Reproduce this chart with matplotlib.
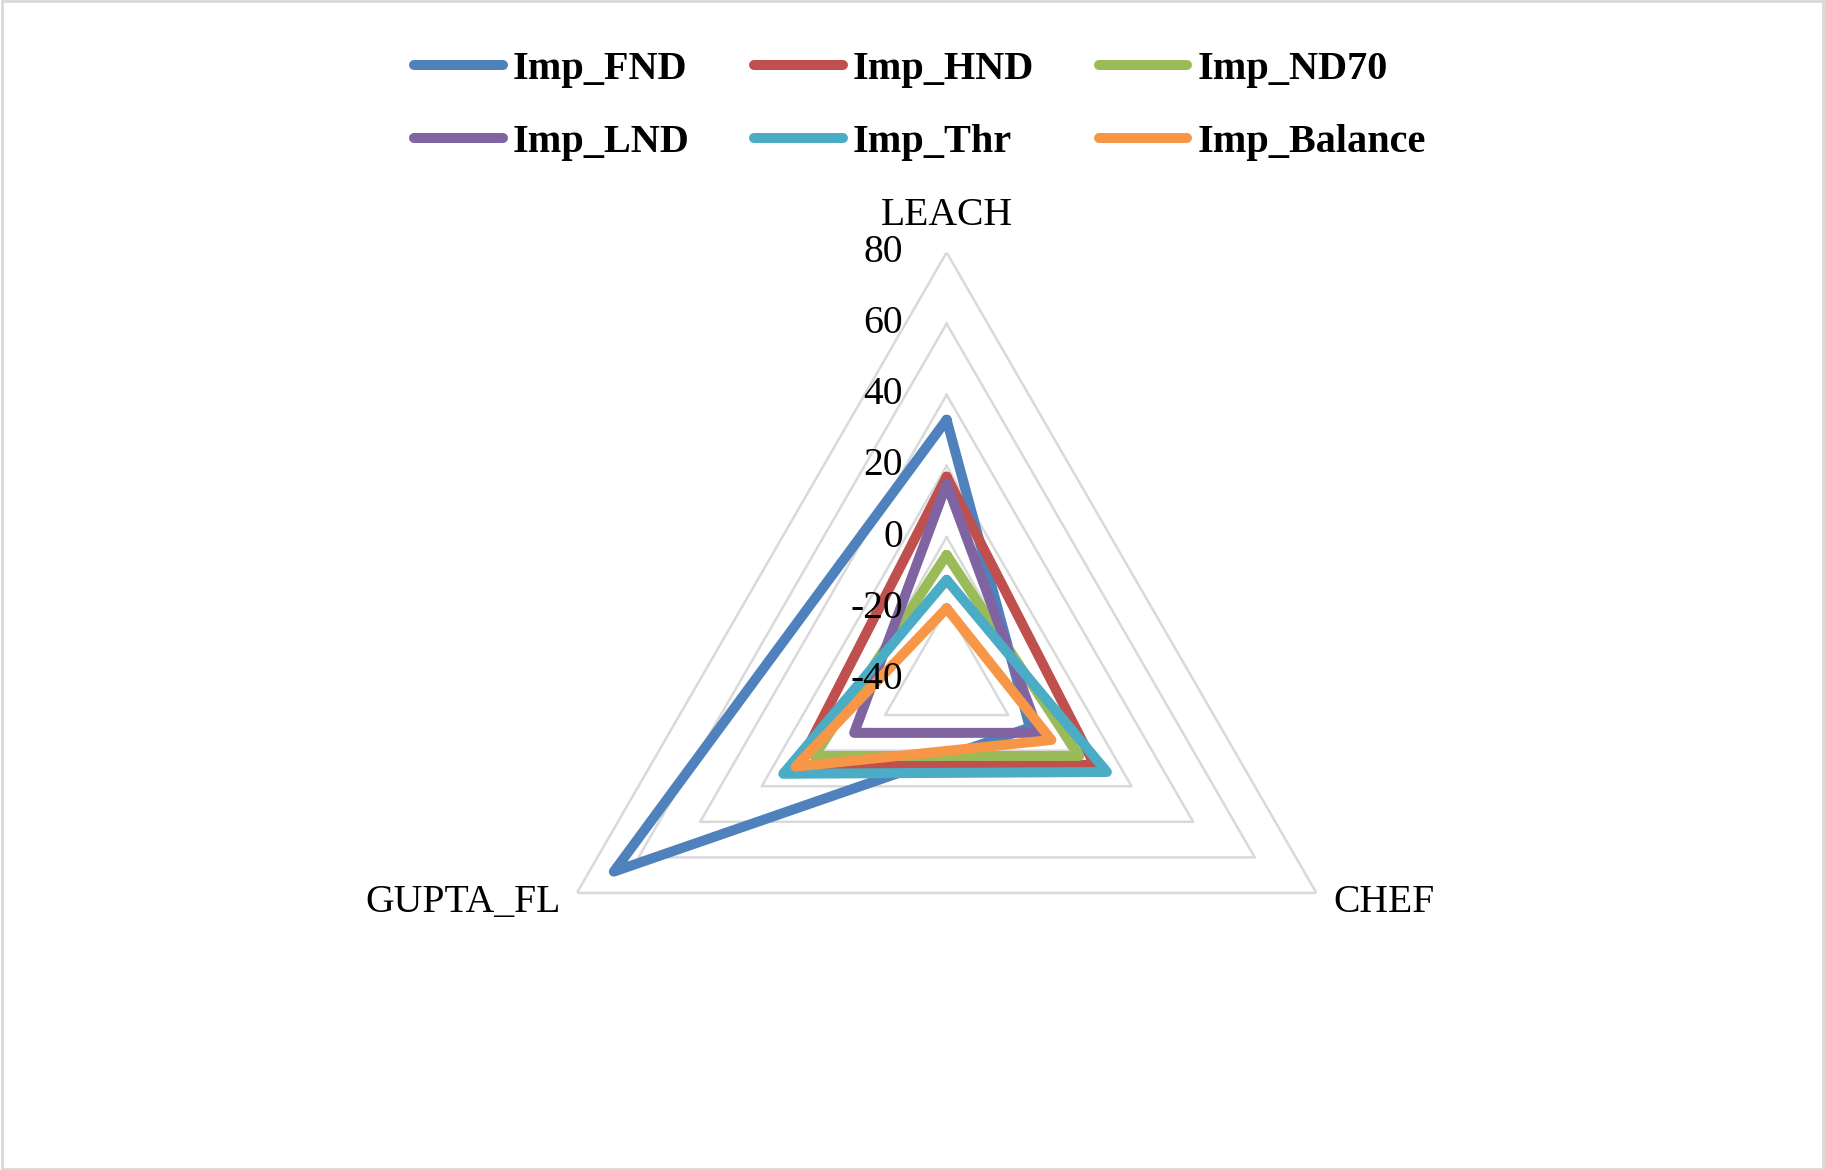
import numpy as np
import matplotlib.pyplot as plt
from matplotlib.patches import Rectangle

plt.rcParams['font.family'] = ['Liberation Serif', 'DejaVu Serif']

# data
categories = ['LEACH', 'CHEF', 'GUPTA_FL']
levels = [-40, -20, 0, 20, 40, 60, 80]
series_names = ['Imp_FND', 'Imp_HND', 'Imp_ND70', 'Imp_LND', 'Imp_Thr', 'Imp_Balance']
imp_fnd = [33, -13, 68]
imp_hnd = [17, 8, 8]
imp_nd70 = [-5, 3, 3]
imp_lnd = [15, -10, -10]
imp_thr = [-12, 12, 13]
imp_balance = [-20, -6, 9]
colors = ['#4F81BD', '#C0504D', '#9BBB59', '#8064A2', '#4BACC6', '#F79646']

series = [imp_fnd, imp_hnd, imp_nd70, imp_lnd, imp_thr, imp_balance]

fig = plt.figure(figsize=(18.25, 11.7), dpi=100)
ax = fig.add_axes([0.2847, 0.0543, 0.468, 0.7299], projection='polar')
ax.set_theta_offset(np.pi / 2)
ax.set_theta_direction(-1)
ax.set_ylim(levels[0], levels[-1])
ax.grid(False)
ax.spines['polar'].set_visible(False)
ax.set_xticks([])
ax.set_yticks([])

angles = np.linspace(0, 2 * np.pi, len(categories), endpoint=False)
closed = np.append(angles, angles[0])

# triangle gridlines
for lv in levels[1:]:
    ax.plot(closed, [lv] * (len(categories) + 1), color='#D9D9D9', lw=1.8, zorder=1)

# radial tick labels along the LEACH axis (drawn above the series lines)
for lv in levels:
    ax.annotate(str(lv), xy=(0, lv), xytext=(-31.5, 0), textcoords='offset points',
                ha='right', va='center', fontsize=28.5, zorder=6)

# category labels
ax.annotate(categories[0], xy=(angles[0], levels[-1]), xytext=(0, 20),
            textcoords='offset points', ha='center', va='baseline', fontsize=28.5)
ax.annotate(categories[1], xy=(angles[1], levels[-1]), xytext=(12, -7),
            textcoords='offset points', ha='left', va='center', fontsize=28.5)
ax.annotate(categories[2], xy=(angles[2], levels[-1]), xytext=(-12, -7),
            textcoords='offset points', ha='right', va='center', fontsize=28.5)

lines = []
for name, vals, c in zip(series_names, series, colors):
    ln, = ax.plot(closed, vals + vals[:1], color=c, lw=7.2, label=name,
                  solid_joinstyle='round', solid_capstyle='round', zorder=3)
    lines.append(ln)

# legend fills column-wise, reorder so rows read left to right
order = [0, 3, 1, 4, 2, 5]
fig.legend([lines[i] for i in order], [series_names[i] for i in order],
           ncol=3, loc='center', bbox_to_anchor=(0.504, 0.9094), frameon=False,
           prop={'weight': 'bold', 'size': 29}, handlelength=2.2,
           handletextpad=0.25, columnspacing=1.6, labelspacing=0.88)

fig.patches.append(Rectangle((0.001, 0.001), 0.998, 0.998, transform=fig.transFigure,
                             fill=False, edgecolor='#D9D9D9', lw=2))

fig.savefig('out.png', dpi=100)
